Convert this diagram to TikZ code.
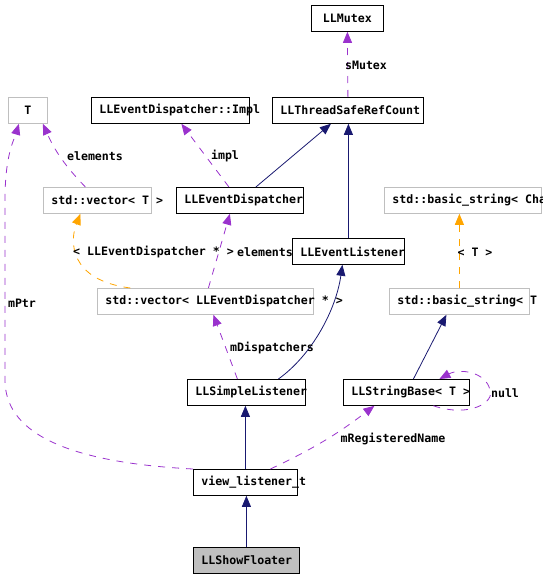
\documentclass[tikz,border=0pt]{standalone}
\usepackage{fontspec}
\setmonofont[WordSpace={1,0,0}]{DejaVu Sans Mono}
\usetikzlibrary{arrows.meta}
\definecolor{inhblue}{HTML}{191970}
\definecolor{usepurple}{HTML}{9A32CD}
\definecolor{tplorange}{HTML}{FFA500}
\definecolor{boxgray}{HTML}{BFBFBF}
\newcommand{\clsname}[2]{\hbox to #1pt{\hfil#2\hfil}}

\begin{document}
\begin{tikzpicture}[x=1pt,y=-1pt,
  cls/.style={draw=black,line width=0.8pt,anchor=north west,minimum height=26pt,
    inner xsep=8pt,inner ysep=0pt,
    font=\ttfamily\bfseries\fontsize{11.6}{13}\selectfont},
  tplbox/.style={cls,draw=boxgray},
  lbl/.style={inner sep=0pt,font=\ttfamily\bfseries\fontsize{11.6}{13}\selectfont},
  inh/.style={draw=inhblue,line width=0.8pt,-{Triangle[length=11pt,width=9pt]}},
  member/.style={draw=usepurple,line width=0.8pt,dash pattern=on 7pt off 7pt,
    -{Triangle[length=11pt,width=9pt,fill=usepurple]}},
  tmpl/.style={draw=tplorange,line width=0.8pt,dash pattern=on 7pt off 7pt,
    -{Triangle[length=11pt,width=9pt,fill=tplorange]}}]
\useasboundingbox (0,0) rectangle (543,578);
\node[cls] (mutex) at (311,5) {\clsname{56}{LLMutex}};
\node[tplbox] (tparam) at (8,97) {\clsname{23}{T}};
\node[cls] (impl) at (91,97) {\clsname{142}{LLEventDispatcher::Impl}};
\node[cls] (refcount) at (272,97) {\clsname{135}{LLThreadSafeRefCount}};
\node[tplbox] (vecT) at (43,187) {\clsname{92}{std::vector< T >}};
\node[cls] (dispatcher) at (176,187) {\clsname{111}{LLEventDispatcher}};
\node[tplbox] (strChar) at (384,187) {\clsname{141}{std::basic\_string< Cha}};
\node[cls] (listener) at (292,238) {\clsname{96}{LLEventListener}};
\node[tplbox] (vecDisp) at (97,288) {\clsname{200}{std::vector< LLEventDispatcher * >}};
\node[tplbox] (strT) at (389,288) {\clsname{124}{std::basic\_string< T}};
\node[cls] (simple) at (187,379) {\clsname{102}{LLSimpleListener}};
\node[cls] (base) at (343,379) {\clsname{110}{LLStringBase< T >}};
\node[cls] (view) at (193,469) {\clsname{88}{view\_listener\_t}};
\node[cls,fill=boxgray] (floater) at (193,547) {\clsname{90}{LLShowFloater}};

\draw[member] (refcount.north) -- (mutex.south);
\draw[member] ([xshift=-12pt]vecT.north) to[bend left=10] ([xshift=15pt]tparam.south);
\draw[member] (view.north west) .. controls (60,462) and (5,430) .. (5,380) -- (5,200)
  .. controls (5,155) and (14,140) .. ([xshift=-9pt]tparam.south);
\draw[member] ([xshift=-11pt]dispatcher.north) -- ([xshift=11pt]impl.south);
\draw[inh] ([xshift=16pt]dispatcher.north) -- ([xshift=-17pt]refcount.south);
\draw[inh] (listener.north) -- (listener.north |- refcount.south);
\draw[tmpl] ([xshift=-75pt]vecDisp.north) .. controls (68,280) and (70,240) .. ([xshift=-17pt]vecT.south);
\draw[member] ([xshift=3pt]vecDisp.north) -- ([xshift=-10pt]dispatcher.south);
\draw[tmpl] (strT.north) -- (strT.north |- strChar.south);
\draw[member] ([xshift=-9pt]simple.north) -- ([xshift=8pt]vecDisp.south);
\draw[inh] ([xshift=32pt]simple.north) .. controls (312,355) and (336,310) .. ([xshift=-6pt]listener.south);
\draw[inh] ([xshift=7pt]base.north) -- ([xshift=-13pt]strT.south);
\draw[member] ([xshift=27pt]base.south) .. controls (470,418) and (495,402) .. (490,390)
  .. controls (486,372) and (460,368) .. ([xshift=33pt]base.north);
\draw[member] ([xshift=25pt]view.north) to[bend right=6] ([xshift=-32pt]base.south);
\draw[inh] (view.north) -- (view.north |- simple.south);
\draw[inh] (floater.north) -- (floater.north |- view.south);

\node[lbl] (lblMutex) at (366,65) {sMutex};
\node[lbl] (lblElemT) at (95,156) {elements};
\node[lbl] (lblImpl) at (225,156) {impl};
\node[lbl] (lblPtr) at (22,303) {mPtr};
\node[lbl,anchor=west] (lblVecArg) at (73,252) {< LLEventDispatcher * >};
\node[lbl] (lblElemD) at (265,252) {elements};
\node[lbl] (lblStrArg) at (475,252) {< T >};
\node[lbl] (lblDisp) at (272,348) {mDispatchers};
\node[lbl] (lblNull) at (505,393) {null};
\node[lbl] (lblName) at (393,439) {mRegisteredName};
\end{tikzpicture}
\end{document}
